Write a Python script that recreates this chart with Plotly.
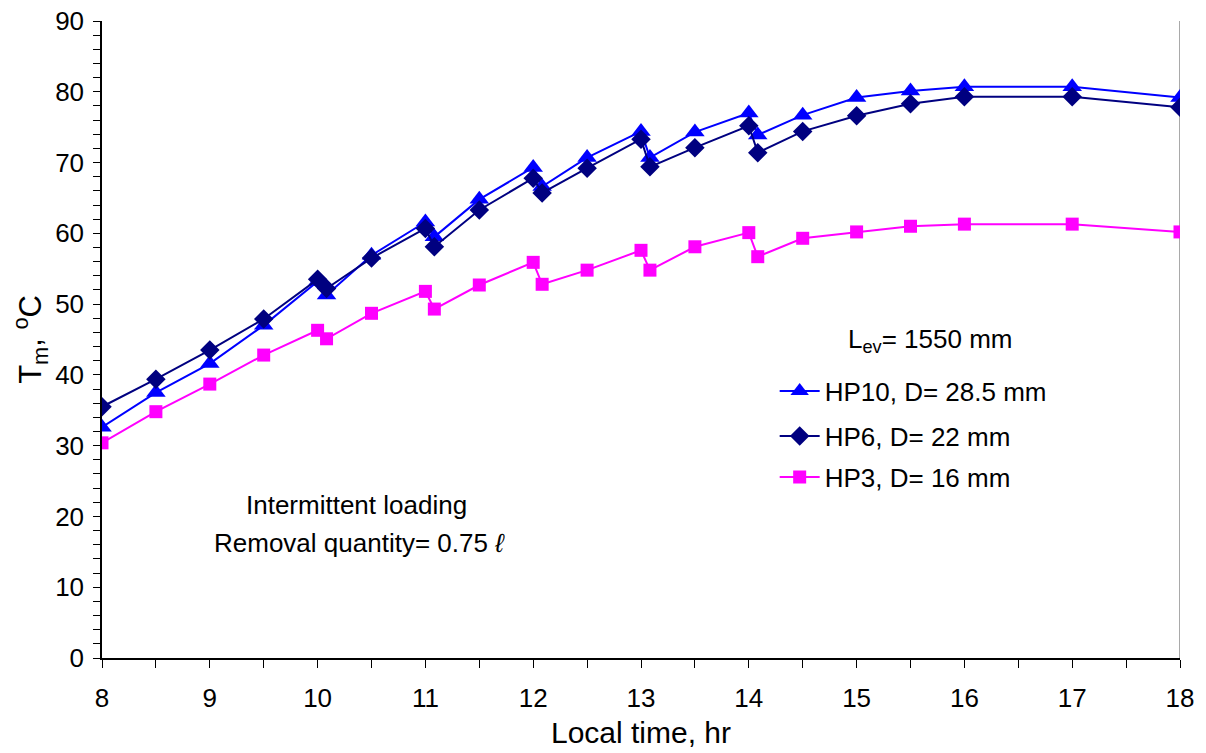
import plotly.graph_objects as go

time_hr = [8, 8.5, 9, 9.5, 10, 10.083, 10.5, 11, 11.083, 11.5, 12, 12.083, 12.5,
           13, 13.083, 13.5, 14, 14.083, 14.5, 15, 15.5, 16, 17, 18]
hp10 = [32.6, 37.5, 41.6, 47.0, 53.2, 51.3, 56.9, 61.6, 59.5, 64.8, 69.3, 66.6, 70.7,
        74.4, 70.7, 74.3, 77.0, 73.9, 76.7, 79.2, 80.1, 80.7, 80.7, 79.2]
hp6 = [35.5, 39.4, 43.5, 47.9, 53.5, 52.2, 56.5, 60.7, 58.1, 63.3, 67.8, 65.7, 69.2,
       73.3, 69.4, 72.1, 75.2, 71.4, 74.4, 76.6, 78.3, 79.3, 79.3, 77.8]
hp3 = [30.4, 34.8, 38.7, 42.8, 46.3, 45.1, 48.7, 51.8, 49.3, 52.7, 55.9, 52.8, 54.8,
       57.6, 54.8, 58.1, 60.1, 56.7, 59.3, 60.2, 61.0, 61.3, 61.3, 60.2]
series_names = ["HP10, D= 28.5 mm", "HP6, D= 22 mm", "HP3, D= 16 mm"]
x_ticks = list(range(8, 19))
y_ticks = list(range(0, 91, 10))

FONT = "Liberation Sans, Arial, sans-serif"

fig = go.Figure()
fig.add_trace(go.Scatter(x=time_hr, y=hp10, name=series_names[0], mode="lines+markers",
                         legend="legend",
                         line=dict(color="#0000FF", width=2),
                         marker=dict(symbol="triangle-up", size=17, color="#0000FF")))
fig.add_trace(go.Scatter(x=time_hr, y=hp6, name=series_names[1], mode="lines+markers",
                         legend="legend2",
                         line=dict(color="#000080", width=2),
                         marker=dict(symbol="diamond", size=15, color="#000080")))
fig.add_trace(go.Scatter(x=time_hr, y=hp3, name=series_names[2], mode="lines+markers",
                         legend="legend3",
                         line=dict(color="#FF00FF", width=2),
                         marker=dict(symbol="square", size=13, color="#FF00FF")))

fig.add_shape(type="line", xref="x", yref="paper", x0=18, x1=18, y0=0, y1=1,
              line=dict(color="#8c8c8c", width=1.5), layer="below")

leg_common = dict(x=0.624, xanchor="left", yanchor="middle",
                  bgcolor="rgba(0,0,0,0)", font=dict(size=26, family=FONT, color="black"),
                  itemwidth=40)

fig.update_layout(
    width=1206, height=753,
    margin=dict(l=102, r=26, t=21, b=95, autoexpand=False),
    paper_bgcolor="white", plot_bgcolor="white",
    font=dict(family=FONT, color="black", size=25),
    showlegend=True,
    legend=dict(y=0.419, **leg_common),
    legend2=dict(y=0.3485, **leg_common),
    legend3=dict(y=0.284, **leg_common),
    xaxis=dict(range=[8, 18], tickvals=x_ticks, ticktext=[str(v) for v in x_ticks],
               automargin=False,
               showgrid=False, zeroline=False, showline=True, linecolor="black", linewidth=1.5,
               ticks="outside", ticklen=8, tickcolor="black", ticklabelstandoff=8,
               minor=dict(dtick=0.5, ticks="outside", ticklen=8, tickcolor="black", showgrid=False),
               tickfont=dict(size=26), title=dict(text="Local time, hr", font=dict(size=30), standoff=10)),
    yaxis=dict(range=[0, 90], tickvals=y_ticks, ticktext=[str(v) for v in y_ticks],
               automargin=False,
               showgrid=False, zeroline=False, showline=True, linecolor="black", linewidth=1.5,
               ticks="outside", ticklen=7, tickcolor="black", ticklabelstandoff=4,
               minor=dict(dtick=2, ticks="outside", ticklen=7, tickcolor="black", showgrid=False),
               tickfont=dict(size=26),
               title=dict(text="T<sub>m</sub>, <sup>o</sup>C", font=dict(size=31), standoff=4)),
)

fig.add_annotation(x=0.768, y=0.499, xref="paper", yref="paper", text="L<sub>ev</sub>= 1550 mm",
                   xanchor="center", yanchor="middle",
                   showarrow=False, font=dict(size=26))
fig.add_annotation(x=0.2365, y=0.240, xref="paper", yref="paper",
                   text="Intermittent loading", xanchor="center", yanchor="middle",
                   showarrow=False, font=dict(size=26), align="center")
fig.add_annotation(x=0.239, y=0.1805, xref="paper", yref="paper",
                   text="Removal quantity= 0.75 <i>ℓ</i>", xanchor="center", yanchor="middle",
                   showarrow=False, font=dict(size=26), align="center")

fig.write_html("out.html")
